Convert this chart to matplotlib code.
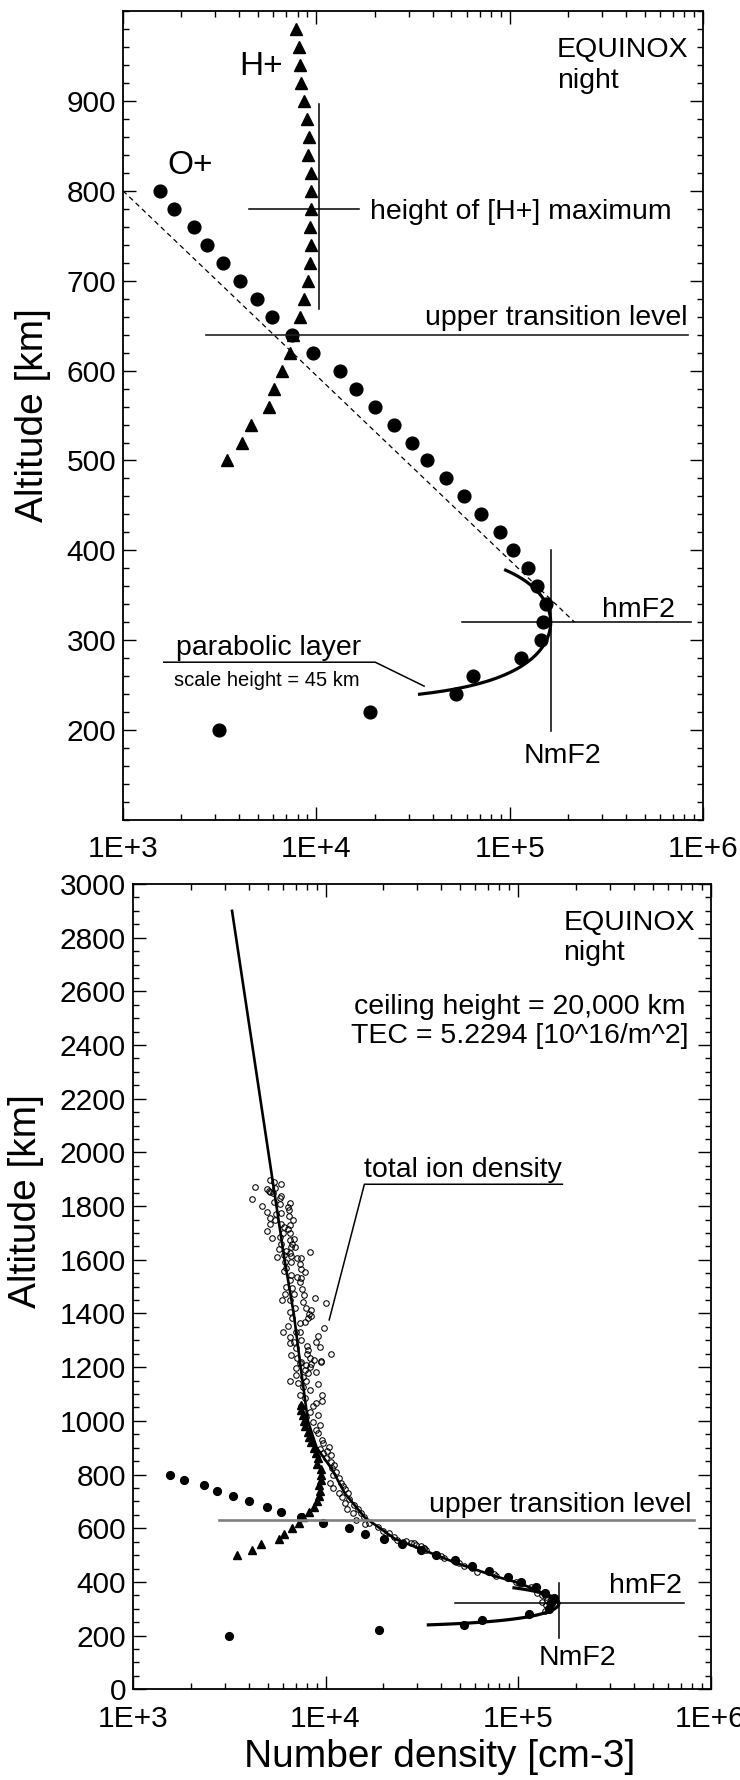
"""
Night-time equinox ion density profiles: O+ / H+ with F2-layer fit (top),
and the full topside total ion density profile up to 3000 km (bottom).
"""

import numpy as np
import matplotlib
matplotlib.use("Agg")
import matplotlib.pyplot as plt
from matplotlib.ticker import FixedLocator, LogLocator, MultipleLocator, NullFormatter

plt.rcParams["font.family"] = ["Liberation Sans", "DejaVu Sans"]

# O+ density (filled circles), km / cm-3
o_alt = [200, 220, 240, 260, 280, 300, 320, 340, 360, 380, 400, 420, 440, 460, 480,
         500, 520, 540, 560, 580, 600, 620, 640, 660, 680, 700, 720, 740, 760, 780, 800]
o_dens = [3150, 18900, 52700, 64700, 114600, 144500, 148600, 154600, 138000, 124000,
          103500, 88800, 70900, 57800, 47100, 37400, 31200, 25100, 20200, 16100,
          13300, 9660, 7480, 5900, 4950, 4020, 3300, 2730, 2340, 1840, 1550]

# H+ density (filled triangles)
h_alt = [500, 520, 540, 560, 580, 600, 620, 640, 660, 680, 700, 720, 740, 760, 780,
         800, 820, 840, 860, 880, 900, 920, 940, 960, 980, 1000, 1020, 1040, 1060]
h_dens = [3450, 4130, 4600, 5700, 6070, 6680, 7315, 7600, 8190, 8670, 9080, 9230,
          9380, 9290, 9440, 9440, 9440, 9030, 9180, 8925, 8670, 8380, 8240, 8150,
          7830, 7700, 7600, 7500, 7450]

# total ion density measurements (open circles)
tot_alt = [1897, 1891, 1884, 1872, 1862, 1857, 1854, 1869, 1848, 1838, 1829, 1826,
           1816, 1813, 1802, 1808, 1795, 1785, 1777, 1773, 1769, 1757, 1763, 1748,
           1748, 1733, 1733, 1721, 1730, 1715, 1707, 1701, 1699, 1682, 1686, 1674,
           1676, 1658, 1658, 1646, 1649, 1639, 1633, 1626, 1628, 1612, 1614, 1608,
           1605, 1618,
           1591, 1593, 1583, 1571, 1566, 1559, 1556, 1544, 1537, 1531, 1525, 1516,
           1500, 1494, 1490, 1472, 1472, 1469, 1459, 1450, 1450, 1444, 1438, 1422,
           1419, 1413, 1404, 1397, 1382, 1385, 1392, 1370, 1363, 1355, 1345, 1332,
           1332, 1330, 1318, 1314, 1301, 1293, 1289, 1293, 1280, 1277, 1270, 1264,
           1246, 1248, 1248, 1233, 1233, 1227, 1223, 1218,
           1215, 1208, 1212, 1221, 1196, 1190, 1200, 1177, 1181, 1171, 1165, 1149,
           1142, 1150, 1137, 1128, 1115, 1097, 1097, 1084, 1074, 1065, 1056, 1056,
           1034, 1022, 1016, 997, 985, 966, 956, 929, 916, 902, 889, 894, 879, 873,
           861,
           848, 836, 823, 811, 798, 786, 767, 770, 757, 749, 745, 730, 730, 715, 708,
           695, 687, 670, 670, 658, 656, 641, 631, 621, 615, 606, 591, 584, 569, 556,
           554, 544, 538, 525, 519,
           550, 544, 534, 525, 497, 488, 476, 469, 459, 451, 438, 430, 422, 401, 395,
           397, 382, 360, 351, 343, 333, 323, 314, 302, 293, 327]
tot_dens = [5170, 5400, 5890, 4290, 4990, 5070, 5130, 5440, 5340, 5890, 5780, 4150,
            5380, 6560, 4680, 5820, 6380, 6460, 4970, 5890, 5510, 5170, 6460, 6770,
            5440, 5130, 5890, 6060, 6510, 6380, 4970, 6010, 6510, 5290, 5780, 6510,
            6830, 5890, 6720, 6910, 6640, 5730, 6250, 6560, 8260, 5600, 6590, 7100,
            7480, 6060,
            6130, 6590, 7330, 6250, 7480, 6060, 7780, 6640, 7130, 7480, 6510, 7330,
            6250, 6720, 7570, 6130, 6830, 7690, 8840, 5960, 6510, 7650, 10080, 6910,
            7880, 8430, 6510, 8200, 6720, 8100, 8430, 7780, 7330, 6380, 9800, 6010,
            7050, 7370, 9130, 6510, 7480, 6830, 6560, 8880, 8000, 9310, 6990, 8100,
            6640, 8000, 10700, 7100, 8260, 8700, 9500, 7480,
            7330, 7940, 8430, 9420, 7050, 7780, 8260, 8100, 8880, 7050, 7630, 6510,
            7190, 7880, 9130, 7630, 8260, 7330, 9610, 7780, 9610, 8950, 7480, 8600,
            8260, 9130, 7940, 8600, 9310, 8880, 9130, 9610, 9760, 10400, 10160, 9380,
            9690, 10700, 10000,
            10700, 11130, 10830, 11360, 11000, 11720, 10490, 12050, 12290, 11000,
            12690, 11720, 13050, 12200, 13310, 12690, 14130, 12900, 14700, 13860,
            15300, 15920, 14420, 16900, 16110, 18670, 19970, 21280, 22780, 23420,
            26170, 27780, 29490, 32320, 33210,
            25160, 28920, 31310, 32590, 39760, 41360, 47530, 49460, 52520, 57990,
            61550, 75090, 76600, 97240, 101200, 105300, 116300, 125900, 133700,
            139100, 141900, 144700, 139100, 143600, 138000, 133700]

# fitted topside total density profile (solid line)
fit_alt = [2900, 2000, 1600, 1400, 1200, 1000, 900, 820, 730, 640, 560, 470, 420,
           400, 370, 340, 320]
fit_dens = [3270, 5050, 6130, 6840, 7430, 8100, 9000, 10800, 12600, 16000, 23000,
            48000, 77000, 97000, 125000, 150000, 163000]

# O+ topside scale-height line (dashed)
oplus_line_alt = [800, 320]
oplus_line_dens = [1000, 2.17e5]

# F2 peak and parabolic bottomside layer
hmF2 = 320
NmF2 = 1.63e5
scale_height = 45
layer_alt = np.linspace(240, 378, 80)
layer_dens = NmF2 * (1 - ((layer_alt - hmF2) / (2 * scale_height)) ** 2)

upper_transition_top = 640
upper_transition_bottom = 631
h_peak_alt = 780

dens_ticks = [1e3, 1e4, 1e5, 1e6]
dens_ticklabels = ["1E+3", "1E+4", "1E+5", "1E+6"]
top_alt_ticks = [200, 300, 400, 500, 600, 700, 800, 900]
bottom_alt_ticks = list(range(0, 3001, 200))

FS_TICK = 21.5
FS_TEXT = 20.5
FS_LABEL = 28


def style_axes(ax, alt_ticks, minor_step):
    ax.set_xscale("log")
    ax.set_xlim(1e3, 1e6)
    ax.xaxis.set_major_locator(FixedLocator(dens_ticks))
    ax.set_xticklabels(dens_ticklabels)
    ax.xaxis.set_minor_locator(LogLocator(base=10, subs=np.arange(2, 10)))
    ax.xaxis.set_minor_formatter(NullFormatter())
    ax.set_yticks(alt_ticks)
    ax.set_yticklabels([str(t) for t in alt_ticks])
    ax.yaxis.set_minor_locator(MultipleLocator(minor_step))
    ax.tick_params(which="both", direction="in", top=True, right=True, width=1.0)
    ax.tick_params(which="major", length=9.5)
    ax.tick_params(which="minor", length=4.5)
    ax.tick_params(axis="x", which="major", labelsize=FS_TICK, pad=11)
    ax.tick_params(axis="y", which="major", labelsize=FS_TICK, pad=5)
    for sp in ax.spines.values():
        sp.set_linewidth(1.3)


fig = plt.figure(figsize=(7.4, 17.8), dpi=100)

# ---------------- top panel: O+ and H+ up to 1000 km ----------------
ax1 = fig.add_axes([0.1662, 0.5393, 0.7838, 0.4545])
style_axes(ax1, top_alt_ticks, 20)
ax1.set_ylim(100, 1000)

h_alt_arr = np.array(h_alt)
h_dens_arr = np.array(h_dens)
in_range = h_alt_arr < 1000
ax1.plot(oplus_line_dens, oplus_line_alt, color="black", lw=0.9, ls=(0, (4, 3)))
ax1.plot(h_dens_arr[in_range], h_alt_arr[in_range], ls="none", marker="^",
         ms=8, color="black")
ax1.plot(o_dens, o_alt, ls="none", marker="o", ms=9.2, color="black")
ax1.plot(layer_dens, layer_alt, color="black", lw=2.3)

# annotation lines
ax1.plot([4495, 16720], [h_peak_alt, h_peak_alt], color="black", lw=1.1)
ax1.plot([10360, 10360], [897, 668], color="black", lw=1.1)
ax1.plot([2692, 8.36e5], [upper_transition_top] * 2, color="#222222", lw=1.2)
ax1.plot([5.64e4, 8.67e5], [hmF2, hmF2], color="black", lw=1.1)
ax1.plot([NmF2, NmF2], [400, 199], color="black", lw=1.1)
ax1.plot([1625, 20170, 36100], [275.6, 275.6, 249], color="black", lw=1.1)

ax1.text(1.752e5, 948.9, "EQUINOX", fontsize=FS_TEXT, va="baseline", ha="left")
ax1.text(1.752e5, 914.9, "night", fontsize=FS_TEXT, va="baseline", ha="left")
ax1.text(5190, 928.6, "H+", fontsize=24, va="baseline", ha="center")
ax1.text(2225, 818.6, "O+", fontsize=24, va="baseline", ha="center")
ax1.text(19050, 768.6, "height of [H+] maximum", fontsize=FS_TEXT,
         va="baseline", ha="left")
ax1.text(8.36e5, 650.8, "upper transition level", fontsize=FS_TEXT,
         va="baseline", ha="right")
ax1.text(4.66e5, 326, "hmF2", fontsize=FS_TEXT, va="baseline", ha="center")
ax1.text(1.88e5, 163.8, "NmF2", fontsize=FS_TEXT, va="baseline", ha="center")
ax1.text(5640, 284, "parabolic layer", fontsize=FS_TEXT, va="baseline", ha="center")
ax1.text(5570, 249, "scale height = 45 km", fontsize=14.5, va="baseline",
         ha="center")
ax1.text(-0.155, 0.5, "Altitude [km]", transform=ax1.transAxes, rotation=90,
         fontsize=FS_LABEL, ha="center", va="center")

# ---------------- bottom panel: full profile up to 3000 km ----------------
ax2 = fig.add_axes([0.1797, 0.05096, 0.7805, 0.4524])
style_axes(ax2, bottom_alt_ticks, 50)
ax2.set_ylim(0, 3000)

ax2.plot(tot_dens, tot_alt, ls="none", marker="o", ms=4.0, mfc="none",
         mec="black", mew=0.75)
ax2.plot(fit_dens, fit_alt, color="black", lw=1.9)
ax2.plot(h_dens, h_alt, ls="none", marker="^", ms=5.4, color="black")
ax2.plot(o_dens, o_alt, ls="none", marker="o", ms=5.6, color="black")
ax2.plot(layer_dens, layer_alt, color="black", lw=2.3)

ax2.plot([2813, 8.17e5], [upper_transition_bottom] * 2, color="#808080", lw=1.9)
ax2.plot([4.68e4, 7.3e5], [hmF2, hmF2], color="black", lw=1.1)
ax2.plot([NmF2, NmF2], [396, 191], color="black", lw=1.1)
ax2.plot([10450, 15920, 1.70e5], [1376, 1881.5, 1881.5], color="black", lw=1.1)

ax2.text(1.72e5, 2829, "EQUINOX", fontsize=FS_TEXT, va="baseline", ha="left")
ax2.text(1.72e5, 2717, "night", fontsize=FS_TEXT, va="baseline", ha="left")
ax2.text(1.02e5, 2516, "ceiling height = 20,000 km", fontsize=FS_TEXT,
         va="baseline", ha="center")
ax2.text(1.02e5, 2407, "TEC = 5.2294 [10^16/m^2]", fontsize=FS_TEXT,
         va="baseline", ha="center")
ax2.text(5.2e4, 1910, "total ion density", fontsize=FS_TEXT, va="baseline",
         ha="center")
ax2.text(7.93e5, 661.7, "upper transition level", fontsize=FS_TEXT,
         va="baseline", ha="right")
ax2.text(4.6e5, 357.6, "hmF2", fontsize=FS_TEXT, va="baseline", ha="center")
ax2.text(2.04e5, 90.5, "NmF2", fontsize=FS_TEXT, va="baseline", ha="center")
ax2.text(-0.186, 0.606, "Altitude [km]", transform=ax2.transAxes, rotation=90,
         fontsize=FS_LABEL, ha="center", va="center")

fig.text(440 / 740, 1 - 1757 / 1780, "Number density [cm-3]", fontsize=FS_LABEL,
         ha="center", va="center")

fig.savefig("out.png", dpi=100)
